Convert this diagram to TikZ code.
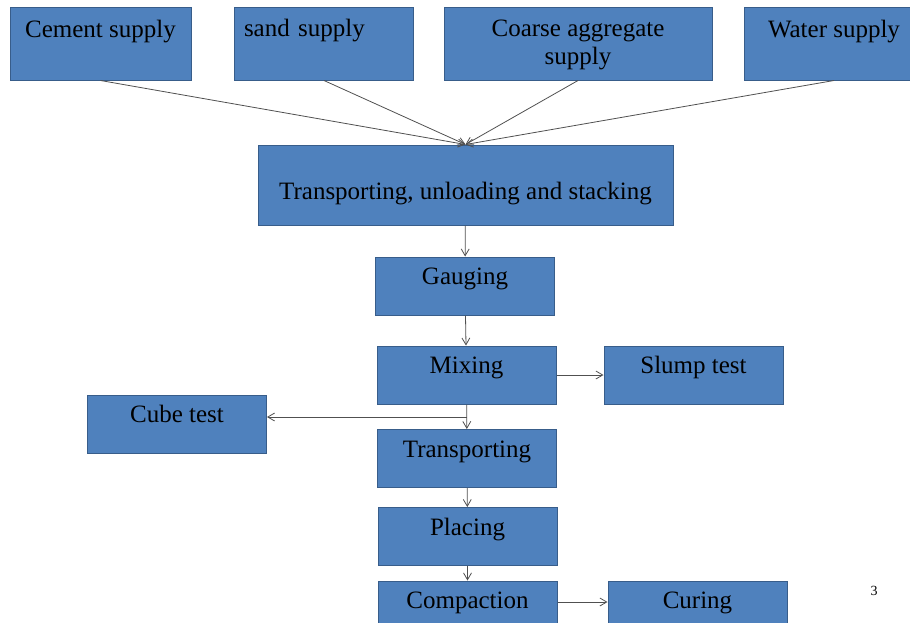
\documentclass[tikz,border=0pt]{standalone}
\usepackage{fontspec}
\setmainfont{Liberation Serif}
\usetikzlibrary{arrows.meta}
\definecolor{boxblue}{HTML}{4F81BD}
\definecolor{boxedge}{HTML}{385D8A}
\definecolor{linegray}{HTML}{505050}
\tikzset{
  flow/.style={-{Straight Barb[length=2.4mm,width=2.8mm]},line width=0.8pt,linegray},
  box/.style={draw=boxedge,fill=boxblue,line width=1pt,minimum width=179pt,
    minimum height=58pt,align=center,inner sep=2pt,
    font=\fontsize{25}{28}\selectfont},
  topbox/.style={box,minimum height=73pt},
  raised/.style={text height=16pt,text depth=19pt}
}

\begin{document}
\begin{tikzpicture}[x=1pt,y=-1pt]
\useasboundingbox (0,0) rectangle (910,622);
\clip (0,0) rectangle (910,622);
% supplies
\node[topbox,text depth=2pt,minimum width=181pt] (cement) at (100.5,43.5) {Cement supply\\\strut};
\node[topbox,align=left,text width=160pt] (sand) at (324,43.5) {sand supply\\[-6pt]\strut};
\node[topbox,text depth=2pt,minimum width=268pt] (coarse) at (578,43.5) {Coarse aggregate\\supply};
\node[topbox,text depth=2pt,minimum width=180pt] (water) at (834,43.5) {Water supply\\\strut};
\node[box,minimum width=415pt,minimum height=80pt,text height=32pt,text depth=4pt]
  (stack) at (465.5,185) {Transporting, unloading and stacking};
% main line
\node[box,raised] (gauge) at (465,286) {Gauging};
\node[box,raised] (mix) at (466.5,375) {Mixing};
\node[box,raised] (slump) at (693.5,375) {Slump test};
\node[box,raised] (cube) at (177,424) {Cube test};
\node[box,raised] (trans) at (467,458.5) {Transporting};
\node[box,raised] (place) at (467.5,536.5) {Placing};
\node[box,raised] (compact) at (467.5,610) {Compaction};
\node[box,raised] (curing) at (697.5,610) {Curing};
\node[font=\fontsize{14}{16}\selectfont] (pagenum) at (874,591) {3};
\draw[flow] (cement.south) -- (stack.north);
\draw[flow] (sand.south) -- (stack.north);
\draw[flow] (coarse.south) -- (stack.north);
\draw[flow] (water.south) -- (stack.north);
\draw[flow] (stack) -- (gauge);
\draw[flow] (gauge) -- (mix);
\draw[flow] (mix) -- (slump);
\draw[flow] (mix) -- (trans);
\coordinate (split) at (466.5,417);
\draw[flow] (split) -- (cube.east |- split);
\draw[flow] (trans) -- (place);
\draw[flow] (place) -- (compact);
\draw[flow] ([yshift=8pt]compact.east) -- ([yshift=8pt]curing.west);
\end{tikzpicture}
\end{document}
